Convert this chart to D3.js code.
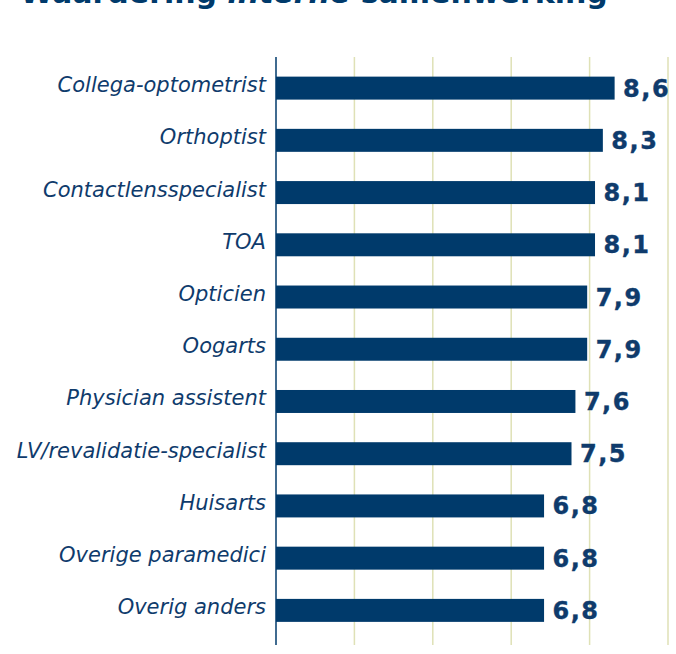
<!DOCTYPE html>
<html>
<head>
<meta charset="utf-8">
<script src="https://cdn.jsdelivr.net/npm/d3@7"></script>
<style>
  body { margin: 0; background: #fff; }
  svg { display: block; }
</style>
</head>
<body>
<svg id="chart"></svg>
<script>
// data
var categories = ["Collega-optometrist", "Orthoptist", "Contactlensspecialist", "TOA", "Opticien",
  "Oogarts", "Physician assistent", "LV/revalidatie-specialist", "Huisarts", "Overige paramedici", "Overig anders"];
var scores = [8.6, 8.3, 8.1, 8.1, 7.9, 7.9, 7.6, 7.5, 6.8, 6.8, 6.8];
var gridTicks = [2, 4, 6, 8, 10];

var w = 676, h = 654;
var navy = "#003a6b";
var textCol = "#0f3b6c";

var svg = d3.select("#chart").attr("width", w).attr("height", h);

var x = d3.scaleLinear().domain([0, 10]).range([276, 668]);
var y = d3.scaleBand().domain(categories).range([62, 636.5]).paddingInner(0.56).paddingOuter(0.28);

// title, mostly cut off at the top (as in the original)
var title = svg.append("text")
  .attr("x", 20).attr("y", 3)
  .attr("font-family", "DejaVu Sans").attr("font-size", "30px")
  .attr("font-weight", "bold").attr("fill", navy);
title.append("tspan").text("Waardering ");
title.append("tspan").attr("font-style", "italic").text("interne");
title.append("tspan").text(" samenwerking");

// gridlines
svg.append("g")
  .selectAll("line")
  .data(gridTicks)
  .join("line")
  .attr("x1", function(d) { return x(d); })
  .attr("x2", function(d) { return x(d); })
  .attr("y1", 57).attr("y2", 645)
  .attr("stroke", "#dfe1b6").attr("stroke-width", 1.5);

// bars
svg.append("g")
  .selectAll("rect")
  .data(scores)
  .join("rect")
  .attr("x", x(0))
  .attr("y", function(d, i) { return y(categories[i]); })
  .attr("width", function(d) { return x(d) - x(0) + 1.5; })
  .attr("height", y.bandwidth())
  .attr("fill", navy);

// axis line
svg.append("line")
  .attr("x1", x(0)).attr("x2", x(0))
  .attr("y1", 57).attr("y2", 645)
  .attr("stroke", navy).attr("stroke-width", 1.5);

// category labels
svg.append("g")
  .selectAll("text")
  .data(categories)
  .join("text")
  .text(function(d) { return d; })
  .attr("x", x(0) - 10)
  .attr("y", function(d) { return y(d) + y.bandwidth() / 2 + 4; })
  .attr("text-anchor", "end")
  .attr("font-family", "DejaVu Sans")
  .attr("font-style", "italic")
  .attr("font-size", "21px")
  .attr("fill", textCol);

// value labels
svg.append("g")
  .selectAll("text")
  .data(scores)
  .join("text")
  .text(function(d) { return d.toFixed(1).replace(".", ","); })
  .attr("x", function(d) { return x(d) + 10; })
  .attr("y", function(d, i) { return y(categories[i]) + y.bandwidth() / 2 + 8.5; })
  .attr("font-family", "DejaVu Sans")
  .attr("font-weight", "bold")
  .attr("font-size", "24px")
  .attr("letter-spacing", "1.5px")
  .attr("stroke", textCol).attr("stroke-width", 0.4)
  .attr("fill", textCol);
</script>
</body>
</html>
